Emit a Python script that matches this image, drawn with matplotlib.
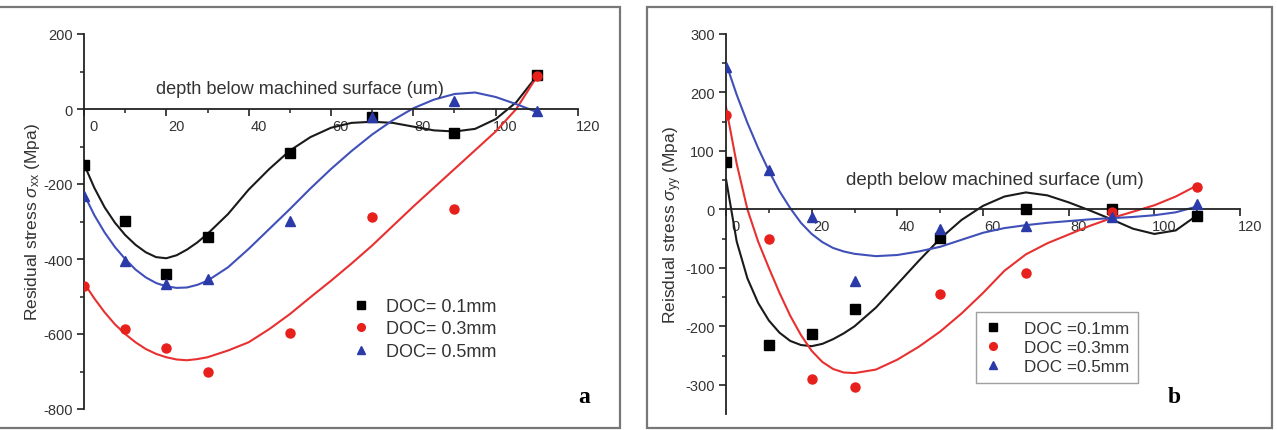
import numpy as np
import matplotlib
matplotlib.use("Agg")
import matplotlib.pyplot as plt
from matplotlib.patches import Rectangle
from matplotlib.transforms import ScaledTranslation

plt.rcParams["font.family"] = ["Liberation Sans", "DejaVu Sans"]
plt.rcParams["axes.unicode_minus"] = False
plt.rcParams["mathtext.fontset"] = "custom"
plt.rcParams["mathtext.rm"] = "Liberation Sans"
plt.rcParams["mathtext.it"] = "Liberation Sans:italic"

# depth below machined surface (um) for the measured points
depth = [0, 10, 20, 30, 50, 70, 90, 110]

# panel a: sigma_xx (Mpa)
sxx_01 = [-150, -298, -440, -340, -118, -22, -65, 91]
sxx_03 = [-471, -587, -637, -700, -596, -289, -267, 87]
sxx_05 = [-231, -404, -467, -453, -298, -22, 22, -4]

# panel b: sigma_yy (Mpa)
syy_01 = [81, -232, -213, -170, -49, 0, 1, -12]
syy_03 = [162, -51, -290, -304, -145, -109, -4, 38]
syy_05 = [244, 68, -13, -122, -34, -28, -13, 9]

# fitted curves (finer steps where they bend sharply)
fit_depth = [0, 2.5, 5, 7.5, 10, 12.5, 15, 17.5, 20, 22.5, 25, 27.5, 30,
             35, 40, 45, 50, 55, 60, 65, 70, 75, 80, 85, 90, 95, 100, 105, 110]
fit_xx_01 = [-147, -210, -262, -303, -336, -362, -382, -395, -398, -390, -375, -356, -333,
             -280, -215, -160, -111, -75, -50, -37, -34, -37, -47, -57, -60, -53, -27, 18, 88]
fit_xx_03 = [-464, -505, -542, -574, -600, -622, -640, -653, -662, -668, -670, -667, -662,
             -644, -622, -587, -547, -502, -458, -412, -364, -312, -260, -210, -160, -110, -60, 0, 86]
fit_xx_05 = [-227, -283, -329, -368, -400, -428, -449, -464, -473, -477, -476, -469, -458,
             -422, -373, -320, -267, -212, -160, -112, -68, -30, 2, 25, 40, 44, 32, 13, -8]
fit_yy_01 = [52, -55, -118, -160, -190, -211, -225, -232, -234, -230, -222, -212, -200,
             -168, -128, -88, -50, -18, 6, 22, 29, 24, 12, -2, -17, -33, -42, -36, -10]
fit_yy_03 = [175, 78, 0, -55, -100, -143, -182, -215, -242, -261, -273, -279, -280,
             -274, -257, -235, -209, -178, -143, -105, -77, -58, -43, -28, -15, -4, 7, 22, 41]
fit_yy_05 = [250, 196, 148, 105, 66, 31, 2, -23, -42, -56, -66, -72, -76,
             -80, -78, -72, -64, -52, -40, -32, -27, -23, -20, -17, -15, -13, -10, -5, 5]

labels_a = ["DOC= 0.1mm", "DOC= 0.3mm", "DOC= 0.5mm"]
labels_b = ["DOC =0.1mm", "DOC =0.3mm", "DOC =0.5mm"]

colors = ["black", "#e8201c", "#2a3aa8"]
line_colors = ["#1a1a1a", "#e83030", "#4050b8"]
markers = ["s", "o", "^"]

W, H = 1277, 431
fig = plt.figure(figsize=(W / 100, H / 100), dpi=100)


def px_box(x0, y0, x1, y1):
    return [x0 / W, 1 - y1 / H, (x1 - x0) / W, (y1 - y0) / H]


def draw_panel(ax, series, fits, labels, ylim, major, minor, ylabel, text_xy, tsize):
    handles = []
    for ys, fy, lab, c, lc, m in zip(series, fits, labels, colors, line_colors, markers):
        ax.plot(fit_depth, fy, color=lc, lw=1.5, zorder=2, solid_joinstyle="round")
        h, = ax.plot(depth, ys, ls="none", marker=m, color=c, ms=6.5, zorder=3,
                     label=lab)
        handles.append(h)

    ax.set_xlim(0, 120)
    ax.set_ylim(*ylim)
    for s in ("top", "right"):
        ax.spines[s].set_visible(False)
    ax.spines["bottom"].set_position(("data", 0))
    for s in ("left", "bottom"):
        ax.spines[s].set_linewidth(1.3)
        ax.spines[s].set_color("#222222")

    ax.set_xticks(np.arange(0, 121, 20))
    ax.set_xticks(np.arange(10, 120, 20), minor=True)
    ax.set_yticks(major)
    ax.set_yticks(minor, minor=True)
    ax.tick_params(axis="both", which="major", direction="out", length=5,
                   width=1.2, labelsize=10.5, labelcolor="#333333", color="#222222")
    ax.tick_params(axis="both", which="minor", direction="out", length=3,
                   width=1.1, color="#222222")
    ax.tick_params(axis="x", pad=2)
    ax.tick_params(axis="y", pad=3)
    off = ScaledTranslation(7 / 72, 0, fig.dpi_scale_trans)
    for lbl in ax.get_xticklabels():
        lbl.set_transform(lbl.get_transform() + off)

    ax.set_ylabel(ylabel, fontsize=12.5, color="#333333", labelpad=1)
    ax.text(text_xy[0], text_xy[1], "depth below machined surface (um)",
            fontsize=tsize, color="#333333", ha="center", va="center")
    ax.patch.set_alpha(0)
    return handles


ax1 = fig.add_axes(px_box(84, 35, 578, 410))
h1 = draw_panel(ax1, [sxx_01, sxx_03, sxx_05], [fit_xx_01, fit_xx_03, fit_xx_05],
                labels_a, (-800, 200),
                np.arange(-800, 201, 200), np.arange(-700, 200, 200),
                r"Residual stress $\sigma_{\rm xx}$ (Mpa)", (52.5, 56), 13.1)
leg1 = ax1.legend(handles=h1, loc="upper left",
                  bbox_to_anchor=(352 / W, 1 - 299 / H),
                  bbox_transform=fig.transFigure, frameon=False, fontsize=13,
                  handlelength=1.0, handletextpad=0.9, labelspacing=0.3,
                  borderaxespad=0, borderpad=0, markerscale=0.85)
for t in leg1.get_texts():
    t.set_color("#333333")

ax2 = fig.add_axes(px_box(726, 35, 1240, 415))
h2 = draw_panel(ax2, [syy_01, syy_03, syy_05], [fit_yy_01, fit_yy_03, fit_yy_05],
                labels_b, (-350, 300),
                np.arange(-300, 301, 100), np.arange(-250, 300, 100),
                r"Reisdual stress $\sigma_{\rm yy}$ (Mpa)", (62.8, 51), 13.5)
leg2 = ax2.legend(handles=h2, loc="upper left",
                  bbox_to_anchor=(976 / W, 1 - 313 / H),
                  bbox_transform=fig.transFigure, frameon=True, fancybox=False,
                  edgecolor="#888888", fontsize=12.3, handlelength=1.0,
                  handletextpad=1.3, labelspacing=0.25, borderaxespad=0,
                  borderpad=0.5, markerscale=0.85)
leg2.get_frame().set_linewidth(1.0)
for t in leg2.get_texts():
    t.set_color("#333333")

# panel letters
fig.text(584 / W, 1 - 398 / H, "a", fontsize=17, fontweight="bold",
         family="Liberation Serif", ha="center", va="center")
fig.text(1174 / W, 1 - 398 / H, "b", fontsize=17, fontweight="bold",
         family="Liberation Serif", ha="center", va="center")

# panel frames
for x0, x1 in ((-3, 620), (647, 1272)):
    fig.add_artist(Rectangle((x0 / W, 1 - 429 / H), (x1 - x0) / W, 421 / H,
                             transform=fig.transFigure, fill=False,
                             edgecolor="#777777", lw=1.6))

fig.savefig("out.png", dpi=100)
